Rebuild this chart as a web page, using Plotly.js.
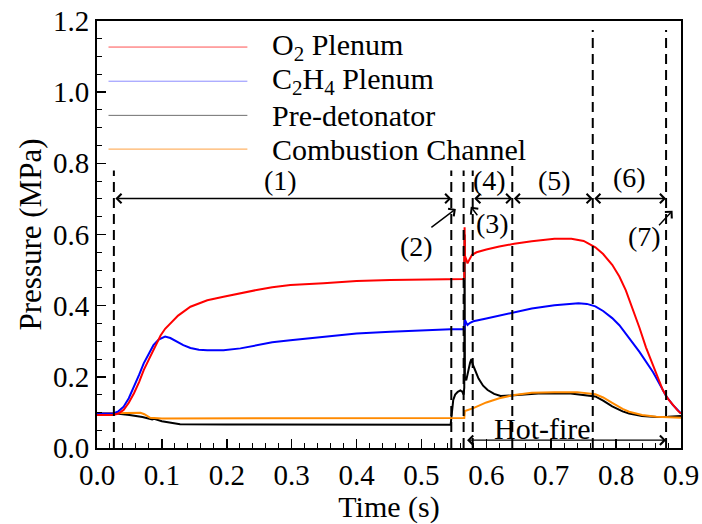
<!DOCTYPE html>
<html>
<head>
<meta charset="utf-8">
<script src="https://cdn.plot.ly/plotly-3.0.1.min.js"></script>
<style>html,body{margin:0;padding:0;background:#fff;}</style>
</head>
<body>
<div id="chart" style="width:702px;height:524px;"></div>
<script>
// ---- Data ----
var seriesNames = ['O<sub>2</sub> Plenum', 'C<sub>2</sub>H<sub>4</sub> Plenum', 'Pre-detonator', 'Combustion Channel'];

var o2Time = [0, 0.025, 0.033, 0.041, 0.049, 0.057, 0.065, 0.072, 0.080, 0.087, 0.093, 0.098, 0.105, 0.113, 0.125, 0.144, 0.17, 0.195, 0.22, 0.246, 0.27, 0.298, 0.349, 0.40, 0.452, 0.50, 0.545, 0.566, 0.5665, 0.567, 0.569, 0.571, 0.574, 0.578, 0.585, 0.60, 0.62, 0.643, 0.67, 0.705, 0.731, 0.75, 0.768, 0.78, 0.794, 0.805, 0.815, 0.825, 0.836, 0.846, 0.857, 0.865, 0.872, 0.88, 0.887, 0.895, 0.9];
var o2Pressure = [0.093, 0.093, 0.097, 0.107, 0.127, 0.154, 0.186, 0.219, 0.249, 0.275, 0.298, 0.316, 0.335, 0.351, 0.372, 0.397, 0.415, 0.425, 0.435, 0.444, 0.452, 0.458, 0.463, 0.469, 0.472, 0.474, 0.475, 0.475, 0.62, 0.54, 0.53, 0.519, 0.530, 0.543, 0.550, 0.558, 0.566, 0.574, 0.581, 0.588, 0.588, 0.582, 0.564, 0.545, 0.515, 0.482, 0.443, 0.395, 0.338, 0.283, 0.232, 0.192, 0.163, 0.138, 0.121, 0.105, 0.097];

var c2h4Time = [0, 0.025, 0.033, 0.041, 0.049, 0.057, 0.065, 0.072, 0.080, 0.087, 0.095, 0.105, 0.113, 0.123, 0.133, 0.144, 0.157, 0.170, 0.195, 0.221, 0.246, 0.27, 0.298, 0.349, 0.40, 0.452, 0.50, 0.545, 0.566, 0.567, 0.569, 0.571, 0.575, 0.58, 0.60, 0.62, 0.643, 0.67, 0.705, 0.742, 0.755, 0.768, 0.78, 0.794, 0.805, 0.815, 0.825, 0.836, 0.846, 0.857, 0.867, 0.877, 0.887, 0.9];
var c2h4Pressure = [0.097, 0.097, 0.103, 0.116, 0.140, 0.172, 0.206, 0.238, 0.265, 0.289, 0.305, 0.313, 0.309, 0.299, 0.289, 0.281, 0.276, 0.275, 0.275, 0.280, 0.289, 0.297, 0.303, 0.313, 0.322, 0.327, 0.331, 0.334, 0.334, 0.36, 0.352, 0.346, 0.352, 0.356, 0.364, 0.372, 0.382, 0.392, 0.401, 0.407, 0.405, 0.398, 0.385, 0.365, 0.345, 0.322, 0.297, 0.270, 0.243, 0.213, 0.180, 0.146, 0.122, 0.097];

var preTime = [0, 0.03, 0.05, 0.07, 0.085, 0.088, 0.1, 0.115, 0.128, 0.2, 0.4, 0.545, 0.547, 0.549, 0.552, 0.556, 0.560, 0.563, 0.565, 0.566, 0.5665, 0.567, 0.569, 0.572, 0.575, 0.577, 0.579, 0.582, 0.588, 0.595, 0.602, 0.612, 0.622, 0.643, 0.68, 0.73, 0.768, 0.78, 0.794, 0.81, 0.82, 0.84, 0.862, 0.88, 0.9];
var prePressure = [0.097, 0.097, 0.093, 0.087, 0.080, 0.082, 0.075, 0.070, 0.067, 0.066, 0.065, 0.065, 0.10, 0.135, 0.150, 0.158, 0.162, 0.158, 0.150, 0.17, 0.60, 0.20, 0.19, 0.22, 0.24, 0.25, 0.235, 0.222, 0.195, 0.175, 0.163, 0.152, 0.146, 0.148, 0.153, 0.153, 0.145, 0.133, 0.117, 0.103, 0.097, 0.090, 0.087, 0.088, 0.090];

var combTime = [0, 0.04, 0.06, 0.067, 0.073, 0.082, 0.1, 0.3, 0.545, 0.566, 0.567, 0.58, 0.60, 0.62, 0.643, 0.67, 0.705, 0.74, 0.768, 0.78, 0.794, 0.81, 0.82, 0.84, 0.862, 0.9];
var combPressure = [0.097, 0.097, 0.097, 0.099, 0.095, 0.085, 0.083, 0.083, 0.082, 0.084, 0.104, 0.112, 0.128, 0.140, 0.149, 0.155, 0.157, 0.157, 0.151, 0.142, 0.127, 0.110, 0.102, 0.093, 0.088, 0.085];

// Phase boundaries (s) and labels
var phaseTimes = [0.026, 0.546, 0.565, 0.579, 0.640, 0.764, 0.877];
var phaseLabels = ['(1)', '(2)', '(3)', '(4)', '(5)', '(6)', '(7)'];
var hotFireLabel = 'Hot-fire';

var xTickLabels = ['0.0','0.1','0.2','0.3','0.4','0.5','0.6','0.7','0.8','0.9'];
var yTickLabels = ['0.0','0.2','0.4','0.6','0.8','1.0','1.2'];

// ---- Styling ----
var FONT = '"Liberation Serif", "Times New Roman", Times, serif';
var colors = ['#ff0000', '#0000ff', '#000000', '#ff8a00'];
var legendColors = ['#ff5050', '#8c8cff', '#707070', '#ffa040'];

var traces = [
  {x: preTime, y: prePressure, name: 'Pre-detonator', color: colors[2]},
  {x: combTime, y: combPressure, name: 'Combustion Channel', color: colors[3]},
  {x: c2h4Time, y: c2h4Pressure, name: 'C2H4 Plenum', color: colors[1]},
  {x: o2Time, y: o2Pressure, name: 'O2 Plenum', color: colors[0]}
].map(function(s){
  return {x: s.x, y: s.y, name: s.name, type: 'scatter', mode: 'lines',
          line: {color: s.color, width: 2}, showlegend: false, hoverinfo: 'skip'};
});

var shapes = [];
var annotations = [];

// dashed vertical phase lines
var lineTops = [0.78, 0.78, 0.78, 0.78, 0.795, 1.175, 1.175];
phaseTimes.forEach(function(t, i){
  shapes.push({type: 'line', xref: 'x', yref: 'y', x0: t, x1: t, y0: 0, y1: lineTops[i],
               line: {color: 'black', width: 2, dash: '10px,6px'}});
});

// manual legend (long sample lines like the reference)
var legY = [0.939, 0.859, 0.779, 0.700];
seriesNames.forEach(function(n, i){
  shapes.push({type: 'line', xref: 'paper', yref: 'paper', x0: 0.0197, x1: 0.2575, y0: legY[i], y1: legY[i],
               line: {color: legendColors[i], width: 1}});
  annotations.push({xref: 'paper', yref: 'paper', x: 0.297, y: legY[i], xanchor: 'left', yanchor: 'middle',
                    text: n, showarrow: false, font: {family: FONT, size: 30, color: 'black'}});
});

var ARROW_Y = 0.701;
function dblArrow(t0, t1, y){
  annotations.push({xref: 'x', yref: 'y', axref: 'x', ayref: 'y', x: t1, y: y, ax: t0, ay: y, text: '',
                    showarrow: true, arrowside: 'end+start', arrowhead: 4, startarrowhead: 4,
                    arrowsize: 1.3, startarrowsize: 1.3, arrowwidth: 1.4, arrowcolor: 'black'});
}
function oneArrow(tx, ty, hx, hy){
  annotations.push({xref: 'x', yref: 'y', axref: 'x', ayref: 'y', x: hx, y: hy, ax: tx, ay: ty, text: '',
                    showarrow: true, arrowhead: 4, arrowsize: 1.3, arrowwidth: 1.4, arrowcolor: 'black'});
}
function label(txt, t, p){
  annotations.push({xref: 'x', yref: 'y', x: t, y: p, text: txt, showarrow: false,
                    xanchor: 'center', yanchor: 'middle', font: {family: FONT, size: 28, color: 'black'}});
}

dblArrow(phaseTimes[0], phaseTimes[1], ARROW_Y);
dblArrow(phaseTimes[3], phaseTimes[4], ARROW_Y);
dblArrow(phaseTimes[4], phaseTimes[5], ARROW_Y);
dblArrow(phaseTimes[5], phaseTimes[6], ARROW_Y);
dblArrow(0.568, phaseTimes[6], 0.022);

oneArrow(0.513, 0.617, 0.553, 0.672);
oneArrow(0.588, 0.650, 0.576, 0.678);
oneArrow(0.864, 0.622, 0.887, 0.667);

label(phaseLabels[0], 0.283, 0.752);
label(phaseLabels[1], 0.493, 0.566);
label(phaseLabels[2], 0.610, 0.632);
label(phaseLabels[3], 0.605, 0.752);
label(phaseLabels[4], 0.705, 0.752);
label(phaseLabels[5], 0.821, 0.760);
label(phaseLabels[6], 0.844, 0.594);
annotations.push({xref: 'x', yref: 'y', x: 0.687, y: 0.056, text: hotFireLabel, showarrow: false,
                  xanchor: 'center', yanchor: 'middle', font: {family: FONT, size: 30, color: 'black'}});

var axisCommon = {
  showgrid: false, zeroline: false, showline: true, linecolor: 'black', linewidth: 2, mirror: true,
  ticks: 'inside', ticklen: 9, tickwidth: 1.5, tickcolor: 'black',
  tickfont: {family: FONT, size: 29, color: 'black'}
};

var layout = {
  width: 702, height: 524,
  margin: {l: 97, r: 21, t: 21, b: 76, pad: 0},
  paper_bgcolor: 'white', plot_bgcolor: 'white',
  showlegend: false,
  font: {family: FONT, color: 'black'},
  xaxis: Object.assign({}, axisCommon, {
    range: [0, 0.9], tickmode: 'array',
    tickvals: xTickLabels.map(Number), ticktext: xTickLabels,
    minor: {dtick: 0.02, tick0: 0, ticks: 'inside', ticklen: 5, tickwidth: 1, tickcolor: 'black', showgrid: false},
    title: {text: 'Time (s)', font: {family: FONT, size: 30, color: 'black'}, standoff: 2}
  }),
  yaxis: Object.assign({}, axisCommon, {
    range: [0, 1.2], tickmode: 'array',
    tickvals: yTickLabels.map(Number), ticktext: yTickLabels,
    minor: {dtick: 0.05, tick0: 0, ticks: 'inside', ticklen: 5, tickwidth: 1, tickcolor: 'black', showgrid: false},
    title: {text: 'Pressure (MPa)', font: {family: FONT, size: 31, color: 'black'}, standoff: 2}
  }),
  shapes: shapes,
  annotations: annotations
};

Plotly.newPlot('chart', traces, layout, {displayModeBar: false, staticPlot: true});
</script>
</body>
</html>
